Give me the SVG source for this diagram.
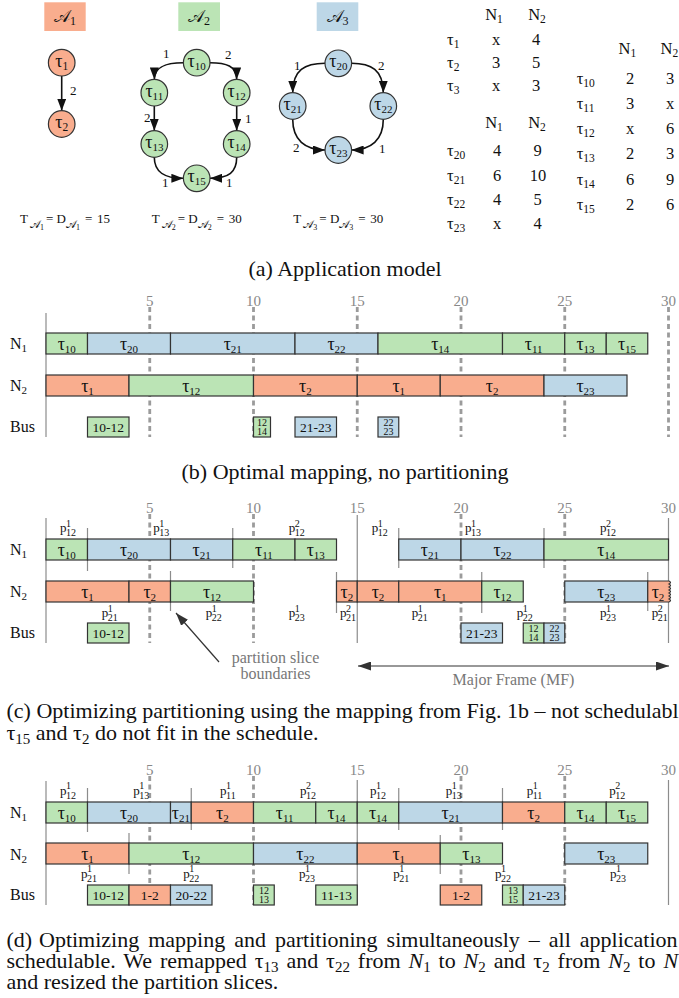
<svg xmlns="http://www.w3.org/2000/svg" width="679" height="998" viewBox="0 0 679 998">
<defs>
<style>
text{font-family:"Liberation Serif","DejaVu Serif",serif;fill:#111}
.o{fill:#F9AD8E}.g{fill:#BBE4B5}.b{fill:#BDD7E7}
.bx{stroke:#333;stroke-width:1.2}
.hb{stroke:none}
.ed{fill:none;stroke:#111;stroke-width:1.6;marker-end:url(#ah)}
.dl{stroke:#9b9b9b;stroke-width:2.8;stroke-dasharray:5 3.5;fill:none}
.sl{stroke:#8c8c8c;stroke-width:1.2}
.tk{font-size:15px;fill:#888;text-anchor:middle}
.rl{font-size:16px}
.tt{font-size:18px;text-anchor:middle}
.bt{font-size:13.5px;text-anchor:middle}
.bs{font-size:10px;text-anchor:middle}
.pl{font-size:13px}
.cap{font-size:22px}
.el{font-size:13px}
.tb{font-size:16.5px}
.tc{font-size:16.5px;text-anchor:middle}
.gr{fill:#777}
.ann{fill:none;stroke:#333;stroke-width:1.2}
</style>
<marker id="ah" viewBox="0 0 12 9" refX="12" refY="4.5" markerWidth="12" markerHeight="9" markerUnits="userSpaceOnUse" orient="auto"><path d="M0,0L12,4.5L0,9z" fill="#111"/></marker>
<marker id="ah2" viewBox="0 0 13 9" refX="13" refY="4.5" markerWidth="13" markerHeight="9" markerUnits="userSpaceOnUse" orient="auto-start-reverse"><path d="M0,0L13,4.5L0,9z" fill="#333"/></marker>
</defs>
<rect width="679" height="998" fill="#fff"/>

<g id="hdrA1"><rect class="o hb" x="44.3" y="2.3" width="41.4" height="28.7"/><text x="65" y="22" font-size="17" text-anchor="middle">𝒜<tspan font-size="12" dy="3">1</tspan></text></g>
<g id="hdrA2"><rect class="g hb" x="178.3" y="2.3" width="41.7" height="28.7"/><text x="199" y="22" font-size="17" text-anchor="middle">𝒜<tspan font-size="12" dy="3">2</tspan></text></g>
<g id="hdrA3"><rect class="b hb" x="316.7" y="2.3" width="41.6" height="28.7"/><text x="337.5" y="22" font-size="17" text-anchor="middle">𝒜<tspan font-size="12" dy="3">3</tspan></text></g>

<g id="connectors">
<path class="ed" d="M61.7,76V110.7"/>
<path class="ed" d="M183.4,62.7C167,62.7 154.3,66 154.3,79.4"/>
<path class="ed" d="M210,62.7C226,62.7 236.7,66 236.7,79.4"/>
<path class="ed" d="M154.3,106V130.7"/>
<path class="ed" d="M236.7,106V130.7"/>
<path class="ed" d="M154.3,157.3C154.3,172 164,178.3 183.4,178.3"/>
<path class="ed" d="M236.7,157.3C236.7,172 229,178.3 210,178.3"/>
<path class="ed" d="M325,63.3C305,63.3 292.7,70 292.7,92.7"/>
<path class="ed" d="M351.6,63.3C371,63.3 383.3,70 383.3,92.7"/>
<path class="ed" d="M292.7,119.3C292.7,140 305,150 325,150"/>
<path class="ed" d="M383.3,119.3C383.3,140 371,150 351.6,150"/>
<text class="el" x="70" y="94.5">2</text>
<text class="el" x="163" y="58">1</text>
<text class="el" x="225" y="59">2</text>
<text class="el" x="144" y="121.5">2</text>
<text class="el" x="245" y="123">1</text>
<text class="el" x="162" y="187">1</text>
<text class="el" x="226" y="187">1</text>
<text class="el" x="294" y="70">1</text>
<text class="el" x="378" y="70">2</text>
<text class="el" x="293" y="151.5">2</text>
<text class="el" x="379" y="153">1</text>
<path class="ann" d="M219,662L176,613" marker-end="url(#ah2)"/>
<path class="ann" d="M358,666H669" marker-start="url(#ah2)" marker-end="url(#ah2)"/>
</g>

<g id="n1"><circle class="o bx" cx="61.7" cy="62.7" r="13.3"/><text class="tt" x="61.7" y="66.8">τ<tspan font-size="11.5" dy="3">1</tspan></text></g>
<g id="n2"><circle class="o bx" cx="61.7" cy="124" r="13.3"/><text class="tt" x="61.7" y="128.1">τ<tspan font-size="11.5" dy="3">2</tspan></text></g>
<g id="n10"><circle class="g bx" cx="196.7" cy="62.7" r="13.3"/><text class="tt" x="196.7" y="66.8" font-size="16.5">τ<tspan font-size="11" dy="3">10</tspan></text></g>
<g id="n11"><circle class="g bx" cx="154.3" cy="92.7" r="13.3"/><text class="tt" x="154.3" y="96.8" font-size="16.5">τ<tspan font-size="11" dy="3">11</tspan></text></g>
<g id="n12"><circle class="g bx" cx="236.7" cy="92.7" r="13.3"/><text class="tt" x="236.7" y="96.8" font-size="16.5">τ<tspan font-size="11" dy="3">12</tspan></text></g>
<g id="n13"><circle class="g bx" cx="154.3" cy="144" r="13.3"/><text class="tt" x="154.3" y="148.1" font-size="16.5">τ<tspan font-size="11" dy="3">13</tspan></text></g>
<g id="n14"><circle class="g bx" cx="236.7" cy="144" r="13.3"/><text class="tt" x="236.7" y="148.1" font-size="16.5">τ<tspan font-size="11" dy="3">14</tspan></text></g>
<g id="n15"><circle class="g bx" cx="196.7" cy="178.3" r="13.3"/><text class="tt" x="196.7" y="182.4" font-size="16.5">τ<tspan font-size="11" dy="3">15</tspan></text></g>
<g id="n20"><circle class="b bx" cx="338.3" cy="63.3" r="13.3"/><text class="tt" x="338.3" y="67.4" font-size="16.5">τ<tspan font-size="11" dy="3">20</tspan></text></g>
<g id="n21"><circle class="b bx" cx="292.7" cy="106" r="13.3"/><text class="tt" x="292.7" y="110.1" font-size="16.5">τ<tspan font-size="11" dy="3">21</tspan></text></g>
<g id="n22"><circle class="b bx" cx="383.3" cy="106" r="13.3"/><text class="tt" x="383.3" y="110.1" font-size="16.5">τ<tspan font-size="11" dy="3">22</tspan></text></g>
<g id="n23"><circle class="b bx" cx="338.3" cy="150" r="13.3"/><text class="tt" x="338.3" y="154.1" font-size="16.5">τ<tspan font-size="11" dy="3">23</tspan></text></g>

<g id="periods" font-size="13">
<text y="223"><tspan x="20">T</tspan><tspan x="30" y="227.5" font-size="11">𝒜</tspan><tspan y="229.5" font-size="8">1</tspan><tspan x="46" y="223">= D</tspan><tspan y="227.5" font-size="11">𝒜</tspan><tspan y="229.5" font-size="8">1</tspan><tspan x="85" y="223">=</tspan><tspan x="97">15</tspan></text>
<text y="223"><tspan x="151.7">T</tspan><tspan x="161.7" y="227.5" font-size="11">𝒜</tspan><tspan y="229.5" font-size="8">2</tspan><tspan x="177.7" y="223">= D</tspan><tspan y="227.5" font-size="11">𝒜</tspan><tspan y="229.5" font-size="8">2</tspan><tspan x="216.7" y="223">=</tspan><tspan x="228.7">30</tspan></text>
<text y="223"><tspan x="293.3">T</tspan><tspan x="303.3" y="227.5" font-size="11">𝒜</tspan><tspan y="229.5" font-size="8">3</tspan><tspan x="319.3" y="223">= D</tspan><tspan y="227.5" font-size="11">𝒜</tspan><tspan y="229.5" font-size="8">3</tspan><tspan x="358.3" y="223">=</tspan><tspan x="370.3">30</tspan></text>
</g>

<g id="table1" class="tb">
<text class="tc" x="494" y="19.5">N<tspan font-size="11.5" dy="3">1</tspan></text><text class="tc" x="537" y="19.5">N<tspan font-size="11.5" dy="3">2</tspan></text>
<text x="447" y="45">τ<tspan font-size="11.5" dy="3">1</tspan></text><text class="tc" x="496" y="45">x</text><text class="tc" x="536" y="45">4</text>
<text x="447" y="68">τ<tspan font-size="11.5" dy="3">2</tspan></text><text class="tc" x="496" y="68">3</text><text class="tc" x="536" y="68">5</text>
<text x="447" y="91">τ<tspan font-size="11.5" dy="3">3</tspan></text><text class="tc" x="496" y="91">x</text><text class="tc" x="536" y="91">3</text>
</g>
<g id="table2" class="tb">
<text class="tc" x="494" y="128">N<tspan font-size="11.5" dy="3">1</tspan></text><text class="tc" x="537" y="128">N<tspan font-size="11.5" dy="3">2</tspan></text>
<text x="447" y="156">τ<tspan font-size="11.5" dy="3">20</tspan></text><text class="tc" x="497" y="156">4</text><text class="tc" x="537.5" y="156">9</text>
<text x="447" y="180.5">τ<tspan font-size="11.5" dy="3">21</tspan></text><text class="tc" x="497" y="180.5">6</text><text class="tc" x="538" y="180.5">10</text>
<text x="447" y="205">τ<tspan font-size="11.5" dy="3">22</tspan></text><text class="tc" x="497" y="205">4</text><text class="tc" x="537.5" y="205">5</text>
<text x="447" y="229">τ<tspan font-size="11.5" dy="3">23</tspan></text><text class="tc" x="497" y="229">x</text><text class="tc" x="537.5" y="229">4</text>
</g>
<g id="table3" class="tb">
<text class="tc" x="627.3" y="54">N<tspan font-size="11.5" dy="3">1</tspan></text><text class="tc" x="669.3" y="54">N<tspan font-size="11.5" dy="3">2</tspan></text>
<text x="576.7" y="83.5">τ<tspan font-size="11.5" dy="3">10</tspan></text><text class="tc" x="630" y="83.5">2</text><text class="tc" x="670" y="83.5">3</text>
<text x="576.7" y="109">τ<tspan font-size="11.5" dy="3">11</tspan></text><text class="tc" x="630" y="109">3</text><text class="tc" x="670" y="109">x</text>
<text x="576.7" y="134">τ<tspan font-size="11.5" dy="3">12</tspan></text><text class="tc" x="630" y="134">x</text><text class="tc" x="670" y="134">6</text>
<text x="576.7" y="159">τ<tspan font-size="11.5" dy="3">13</tspan></text><text class="tc" x="630" y="159">2</text><text class="tc" x="670" y="159">3</text>
<text x="576.7" y="184.5">τ<tspan font-size="11.5" dy="3">14</tspan></text><text class="tc" x="630" y="184.5">6</text><text class="tc" x="670" y="184.5">9</text>
<text x="576.7" y="209.5">τ<tspan font-size="11.5" dy="3">15</tspan></text><text class="tc" x="630" y="209.5">2</text><text class="tc" x="670" y="209.5">6</text>
</g>

<text class="cap" x="345" y="276" text-anchor="middle">(a) Application model</text>

<g id="chartB">
<g id="axisB">
<line class="sl" x1="46" y1="313" x2="46" y2="437"/>
<path class="dl" d="M149.75,307V437M253.5,307V437M357.25,307V437M461,307V437M564.75,307V437M668.5,307V437"/>
<text class="tk" x="149.75" y="306">5</text><text class="tk" x="253.5" y="306">10</text><text class="tk" x="357.25" y="306">15</text><text class="tk" x="461" y="306">20</text><text class="tk" x="564.75" y="306">25</text><text class="tk" x="668.5" y="306">30</text>
<text class="rl" x="10" y="349">N<tspan font-size="11" dy="3">1</tspan></text>
<text class="rl" x="10" y="391">N<tspan font-size="11" dy="3">2</tspan></text>
<text class="rl" x="10" y="432">Bus</text>
</g>
<g id="b_n1_10"><rect class="g bx" x="46" y="333" width="41.5" height="21"/><text class="tt" x="66.75" y="349.5">τ<tspan font-size="11" dy="3">10</tspan></text></g>
<g id="b_n1_20"><rect class="b bx" x="87.5" y="333" width="83" height="21"/><text class="tt" x="129" y="349.5">τ<tspan font-size="11" dy="3">20</tspan></text></g>
<g id="b_n1_21"><rect class="b bx" x="170.5" y="333" width="124.5" height="21"/><text class="tt" x="232.75" y="349.5">τ<tspan font-size="11" dy="3">21</tspan></text></g>
<g id="b_n1_22"><rect class="b bx" x="295" y="333" width="83" height="21"/><text class="tt" x="336.5" y="349.5">τ<tspan font-size="11" dy="3">22</tspan></text></g>
<g id="b_n1_14"><rect class="g bx" x="378" y="333" width="124.5" height="21"/><text class="tt" x="440.25" y="349.5">τ<tspan font-size="11" dy="3">14</tspan></text></g>
<g id="b_n1_11"><rect class="g bx" x="502.5" y="333" width="62.25" height="21"/><text class="tt" x="533.6" y="349.5">τ<tspan font-size="11" dy="3">11</tspan></text></g>
<g id="b_n1_13"><rect class="g bx" x="564.75" y="333" width="41.5" height="21"/><text class="tt" x="585.5" y="349.5">τ<tspan font-size="11" dy="3">13</tspan></text></g>
<g id="b_n1_15"><rect class="g bx" x="606.25" y="333" width="41.5" height="21"/><text class="tt" x="627" y="349.5">τ<tspan font-size="11" dy="3">15</tspan></text></g>
<g id="b_n2_1a"><rect class="o bx" x="46" y="375" width="83" height="21"/><text class="tt" x="87.5" y="391.5">τ<tspan font-size="11" dy="3">1</tspan></text></g>
<g id="b_n2_12"><rect class="g bx" x="129" y="375" width="124.5" height="21"/><text class="tt" x="191.25" y="391.5">τ<tspan font-size="11" dy="3">12</tspan></text></g>
<g id="b_n2_2a"><rect class="o bx" x="253.5" y="375" width="103.75" height="21"/><text class="tt" x="305.4" y="391.5">τ<tspan font-size="11" dy="3">2</tspan></text></g>
<g id="b_n2_1b"><rect class="o bx" x="357.25" y="375" width="83" height="21"/><text class="tt" x="398.75" y="391.5">τ<tspan font-size="11" dy="3">1</tspan></text></g>
<g id="b_n2_2b"><rect class="o bx" x="440.25" y="375" width="103.75" height="21"/><text class="tt" x="492.1" y="391.5">τ<tspan font-size="11" dy="3">2</tspan></text></g>
<g id="b_n2_23"><rect class="b bx" x="544" y="375" width="83" height="21"/><text class="tt" x="585.5" y="391.5">τ<tspan font-size="11" dy="3">23</tspan></text></g>
<g id="b_bus_1"><rect class="g bx" x="87.5" y="417" width="41.5" height="20"/><text class="bt" x="108.25" y="431.5">10-12</text></g>
<g id="b_bus_2"><rect class="g bx" x="253.5" y="417" width="17" height="20"/><text class="bs" x="262" y="425.5">12<tspan x="262" y="435">14</tspan></text></g>
<g id="b_bus_3"><rect class="b bx" x="295" y="417" width="41.5" height="20"/><text class="bt" x="315.75" y="431.5">21-23</text></g>
<g id="b_bus_4"><rect class="b bx" x="378" y="417" width="20.75" height="20"/><text class="bs" x="388.4" y="425.5">22<tspan x="388.4" y="435">23</tspan></text></g>
</g>
<text class="cap" x="345" y="479" text-anchor="middle">(b) Optimal mapping, no partitioning</text>

<g id="chartC">
<g id="axisC">
<line class="sl" x1="46" y1="518" x2="46" y2="643"/>
<path class="dl" d="M149.75,514V643M253.5,514V643M461,514V643M564.75,514V643"/>
<path class="sl" d="M357.25,515V643M668.5,518V643M87.5,528V571M232.75,528V568M398.75,528V568M544,528V568M170.5,571V611M336.5,572V613M481.75,572V613M647.75,572V611"/>
<text class="tk" x="149.75" y="513">5</text><text class="tk" x="253.5" y="513">10</text><text class="tk" x="357.25" y="513">15</text><text class="tk" x="461" y="513">20</text><text class="tk" x="564.75" y="513">25</text><text class="tk" x="668.5" y="513">30</text>
<text class="rl" x="10" y="555">N<tspan font-size="11" dy="3">1</tspan></text>
<text class="rl" x="10" y="597">N<tspan font-size="11" dy="3">2</tspan></text>
<text class="rl" x="10" y="638">Bus</text>
</g>
<g id="c_parts" class="pl">
<text x="60" y="532">p<tspan x="66" y="526.5" font-size="10">1</tspan><tspan x="66" y="536" font-size="10">12</tspan></text>
<text x="153.3" y="532">p<tspan x="159.3" y="526.5" font-size="10">1</tspan><tspan x="159.3" y="536" font-size="10">13</tspan></text>
<text x="288.7" y="532">p<tspan x="294.7" y="526.5" font-size="10">2</tspan><tspan x="294.7" y="536" font-size="10">12</tspan></text>
<text x="371.7" y="532">p<tspan x="377.7" y="526.5" font-size="10">1</tspan><tspan x="377.7" y="536" font-size="10">12</tspan></text>
<text x="465" y="532">p<tspan x="471" y="526.5" font-size="10">1</tspan><tspan x="471" y="536" font-size="10">13</tspan></text>
<text x="600" y="532">p<tspan x="606" y="526.5" font-size="10">2</tspan><tspan x="606" y="536" font-size="10">12</tspan></text>
<text x="101.7" y="617">p<tspan x="107.7" y="611.5" font-size="10">1</tspan><tspan x="107.7" y="621" font-size="10">21</tspan></text>
<text x="205.7" y="617">p<tspan x="211.7" y="611.5" font-size="10">1</tspan><tspan x="211.7" y="621" font-size="10">22</tspan></text>
<text x="288.7" y="617">p<tspan x="294.7" y="611.5" font-size="10">1</tspan><tspan x="294.7" y="621" font-size="10">23</tspan></text>
<text x="340" y="617">p<tspan x="346" y="611.5" font-size="10">2</tspan><tspan x="346" y="621" font-size="10">21</tspan></text>
<text x="411.7" y="617">p<tspan x="417.7" y="611.5" font-size="10">1</tspan><tspan x="417.7" y="621" font-size="10">21</tspan></text>
<text x="516.7" y="617">p<tspan x="522.7" y="611.5" font-size="10">1</tspan><tspan x="522.7" y="621" font-size="10">22</tspan></text>
<text x="600" y="617">p<tspan x="606" y="611.5" font-size="10">1</tspan><tspan x="606" y="621" font-size="10">23</tspan></text>
<text x="651.7" y="617">p<tspan x="657.7" y="611.5" font-size="10">2</tspan><tspan x="657.7" y="621" font-size="10">21</tspan></text>
</g>
<g id="c_n1_10"><rect class="g bx" x="46" y="539" width="41.5" height="21"/><text class="tt" x="66.75" y="555.5">τ<tspan font-size="11" dy="3">10</tspan></text></g>
<g id="c_n1_20"><rect class="b bx" x="87.5" y="539" width="83" height="21"/><text class="tt" x="129" y="555.5">τ<tspan font-size="11" dy="3">20</tspan></text></g>
<g id="c_n1_21a"><rect class="b bx" x="170.5" y="539" width="62.25" height="21"/><text class="tt" x="201.6" y="555.5">τ<tspan font-size="11" dy="3">21</tspan></text></g>
<g id="c_n1_11"><rect class="g bx" x="232.75" y="539" width="62.25" height="21"/><text class="tt" x="263.9" y="555.5">τ<tspan font-size="11" dy="3">11</tspan></text></g>
<g id="c_n1_13"><rect class="g bx" x="295" y="539" width="41.5" height="21"/><text class="tt" x="315.75" y="555.5">τ<tspan font-size="11" dy="3">13</tspan></text></g>
<g id="c_n1_21b"><rect class="b bx" x="398.75" y="539" width="62.25" height="21"/><text class="tt" x="429.9" y="555.5">τ<tspan font-size="11" dy="3">21</tspan></text></g>
<g id="c_n1_22"><rect class="b bx" x="461" y="539" width="83" height="21"/><text class="tt" x="502.5" y="555.5">τ<tspan font-size="11" dy="3">22</tspan></text></g>
<g id="c_n1_14"><rect class="g bx" x="544" y="539" width="124.5" height="21"/><text class="tt" x="606.25" y="555.5">τ<tspan font-size="11" dy="3">14</tspan></text></g>
<g id="c_n2_1a"><rect class="o bx" x="46" y="581" width="83" height="21"/><text class="tt" x="87.5" y="597.5">τ<tspan font-size="11" dy="3">1</tspan></text></g>
<g id="c_n2_2a"><rect class="o bx" x="129" y="581" width="41.5" height="21"/><text class="tt" x="149.75" y="597.5">τ<tspan font-size="11" dy="3">2</tspan></text></g>
<g id="c_n2_12a"><rect class="g bx" x="170.5" y="581" width="83" height="21"/><text class="tt" x="212" y="597.5">τ<tspan font-size="11" dy="3">12</tspan></text></g>
<g id="c_n2_2b"><rect class="o bx" x="336.5" y="581" width="20.75" height="21"/><text class="tt" x="346.9" y="597.5">τ<tspan font-size="11" dy="3">2</tspan></text></g>
<g id="c_n2_2c"><rect class="o bx" x="357.25" y="581" width="41.5" height="21"/><text class="tt" x="378" y="597.5">τ<tspan font-size="11" dy="3">2</tspan></text></g>
<g id="c_n2_1b"><rect class="o bx" x="398.75" y="581" width="83" height="21"/><text class="tt" x="440.25" y="597.5">τ<tspan font-size="11" dy="3">1</tspan></text></g>
<g id="c_n2_12b"><rect class="g bx" x="481.75" y="581" width="41.5" height="21"/><text class="tt" x="502.5" y="597.5">τ<tspan font-size="11" dy="3">12</tspan></text></g>
<g id="c_n2_23"><rect class="b bx" x="564.75" y="581" width="83" height="21"/><text class="tt" x="606.25" y="597.5">τ<tspan font-size="11" dy="3">23</tspan></text></g>
<g id="c_n2_2d"><path class="o bx" d="M647.75,581H669q3,1.5 0,3q3,1.5 0,3q3,1.5 0,3q3,1.5 0,3q3,1.5 0,3q3,1.5 0,3q3,1.5 0,3H647.75z"/><text class="tt" x="658" y="597.5">τ<tspan font-size="11" dy="3">2</tspan></text></g>
<g id="c_bus_1"><rect class="g bx" x="87.5" y="623" width="41.5" height="20"/><text class="bt" x="108.25" y="637.5">10-12</text></g>
<g id="c_bus_2"><rect class="b bx" x="461" y="623" width="41.5" height="20"/><text class="bt" x="481.75" y="637.5">21-23</text></g>
<g id="c_bus_3"><rect class="g bx" x="523.25" y="623" width="20.75" height="20"/><text class="bs" x="533.6" y="631.5">12<tspan x="533.6" y="641">14</tspan></text></g>
<g id="c_bus_4"><rect class="b bx" x="544" y="623" width="20.75" height="20"/><text class="bs" x="554.4" y="631.5">22<tspan x="554.4" y="641">23</tspan></text></g>
<g id="c_note1"><text x="275.5" y="663" font-size="16" text-anchor="middle" class="gr">partition slice</text><text x="275.5" y="679" font-size="16" text-anchor="middle" class="gr">boundaries</text></g>
<g id="c_note2"><text x="513.5" y="685" font-size="16" text-anchor="middle" class="gr">Major Frame (MF)</text></g>
</g>
<text class="cap" x="6.5" y="718">(c) Optimizing partitioning using the mapping from Fig. 1b – not schedulable</text>
<text class="cap" x="6.5" y="740">τ<tspan font-size="15" dy="4">15</tspan><tspan dy="-4"> and τ</tspan><tspan font-size="15" dy="4">2</tspan><tspan dy="-4"> do not fit in the schedule.</tspan></text>

<g id="chartD">
<g id="axisD">
<line class="sl" x1="46" y1="781" x2="46" y2="905"/>
<path class="dl" d="M149.75,776V905M253.5,776V905M461,776V905M564.75,776V905"/>
<path class="sl" d="M357.25,780V905M668.5,780V905M87.5,788V832M191.25,788V830M398.75,788V830M502.5,788V830M129,833V874M440.25,835V874"/>
<text class="tk" x="149.75" y="775">5</text><text class="tk" x="253.5" y="775">10</text><text class="tk" x="357.25" y="775">15</text><text class="tk" x="461" y="775">20</text><text class="tk" x="564.75" y="775">25</text><text class="tk" x="668.5" y="775">30</text>
<text class="rl" x="10" y="818">N<tspan font-size="11" dy="3">1</tspan></text>
<text class="rl" x="10" y="860">N<tspan font-size="11" dy="3">2</tspan></text>
<text class="rl" x="10" y="900">Bus</text>
</g>
<g id="d_parts" class="pl">
<text x="60" y="794.5">p<tspan x="66" y="789" font-size="10">1</tspan><tspan x="66" y="798.5" font-size="10">12</tspan></text>
<text x="133.3" y="794.5">p<tspan x="139.3" y="789" font-size="10">1</tspan><tspan x="139.3" y="798.5" font-size="10">13</tspan></text>
<text x="220" y="794.5">p<tspan x="226" y="789" font-size="10">1</tspan><tspan x="226" y="798.5" font-size="10">11</tspan></text>
<text x="300" y="794.5">p<tspan x="306" y="789" font-size="10">2</tspan><tspan x="306" y="798.5" font-size="10">12</tspan></text>
<text x="370" y="794.5">p<tspan x="376" y="789" font-size="10">1</tspan><tspan x="376" y="798.5" font-size="10">12</tspan></text>
<text x="445.7" y="794.5">p<tspan x="451.7" y="789" font-size="10">1</tspan><tspan x="451.7" y="798.5" font-size="10">13</tspan></text>
<text x="526.7" y="794.5">p<tspan x="532.7" y="789" font-size="10">1</tspan><tspan x="532.7" y="798.5" font-size="10">11</tspan></text>
<text x="609.3" y="794.5">p<tspan x="615.3" y="789" font-size="10">2</tspan><tspan x="615.3" y="798.5" font-size="10">12</tspan></text>
<text x="81" y="877.5">p<tspan x="87" y="872" font-size="10">1</tspan><tspan x="87" y="881.5" font-size="10">21</tspan></text>
<text x="183.3" y="877.5">p<tspan x="189.3" y="872" font-size="10">1</tspan><tspan x="189.3" y="881.5" font-size="10">22</tspan></text>
<text x="299" y="877.5">p<tspan x="305" y="872" font-size="10">1</tspan><tspan x="305" y="881.5" font-size="10">23</tspan></text>
<text x="393.3" y="877.5">p<tspan x="399.3" y="872" font-size="10">1</tspan><tspan x="399.3" y="881.5" font-size="10">21</tspan></text>
<text x="495" y="877.5">p<tspan x="501" y="872" font-size="10">1</tspan><tspan x="501" y="881.5" font-size="10">22</tspan></text>
<text x="610" y="877.5">p<tspan x="616" y="872" font-size="10">1</tspan><tspan x="616" y="881.5" font-size="10">23</tspan></text>
</g>
<g id="d_n1_10"><rect class="g bx" x="46" y="802" width="41.5" height="21"/><text class="tt" x="66.75" y="818.5">τ<tspan font-size="11" dy="3">10</tspan></text></g>
<g id="d_n1_20"><rect class="b bx" x="87.5" y="802" width="83" height="21"/><text class="tt" x="129" y="818.5">τ<tspan font-size="11" dy="3">20</tspan></text></g>
<g id="d_n1_21a"><rect class="b bx" x="170.5" y="802" width="20.75" height="21"/><text class="tt" x="180.9" y="818.5">τ<tspan font-size="11" dy="3">21</tspan></text></g>
<g id="d_n1_2a"><rect class="o bx" x="191.25" y="802" width="62.25" height="21"/><text class="tt" x="222.4" y="818.5">τ<tspan font-size="11" dy="3">2</tspan></text></g>
<g id="d_n1_11"><rect class="g bx" x="253.5" y="802" width="62.25" height="21"/><text class="tt" x="284.6" y="818.5">τ<tspan font-size="11" dy="3">11</tspan></text></g>
<g id="d_n1_14a"><rect class="g bx" x="315.75" y="802" width="41.5" height="21"/><text class="tt" x="336.5" y="818.5">τ<tspan font-size="11" dy="3">14</tspan></text></g>
<g id="d_n1_14b"><rect class="g bx" x="357.25" y="802" width="41.5" height="21"/><text class="tt" x="378" y="818.5">τ<tspan font-size="11" dy="3">14</tspan></text></g>
<g id="d_n1_21b"><rect class="b bx" x="398.75" y="802" width="103.75" height="21"/><text class="tt" x="450.6" y="818.5">τ<tspan font-size="11" dy="3">21</tspan></text></g>
<g id="d_n1_2b"><rect class="o bx" x="502.5" y="802" width="62.25" height="21"/><text class="tt" x="533.6" y="818.5">τ<tspan font-size="11" dy="3">2</tspan></text></g>
<g id="d_n1_14c"><rect class="g bx" x="564.75" y="802" width="41.5" height="21"/><text class="tt" x="585.5" y="818.5">τ<tspan font-size="11" dy="3">14</tspan></text></g>
<g id="d_n1_15"><rect class="g bx" x="606.25" y="802" width="41.5" height="21"/><text class="tt" x="627" y="818.5">τ<tspan font-size="11" dy="3">15</tspan></text></g>
<g id="d_n2_1a"><rect class="o bx" x="46" y="843" width="83" height="21"/><text class="tt" x="87.5" y="859.5">τ<tspan font-size="11" dy="3">1</tspan></text></g>
<g id="d_n2_12"><rect class="g bx" x="129" y="843" width="124.5" height="21"/><text class="tt" x="191.25" y="859.5">τ<tspan font-size="11" dy="3">12</tspan></text></g>
<g id="d_n2_22"><rect class="b bx" x="253.5" y="843" width="103.75" height="21"/><text class="tt" x="305.4" y="859.5">τ<tspan font-size="11" dy="3">22</tspan></text></g>
<g id="d_n2_1b"><rect class="o bx" x="357.25" y="843" width="83" height="21"/><text class="tt" x="398.75" y="859.5">τ<tspan font-size="11" dy="3">1</tspan></text></g>
<g id="d_n2_13"><rect class="g bx" x="440.25" y="843" width="62.25" height="21"/><text class="tt" x="471.4" y="859.5">τ<tspan font-size="11" dy="3">13</tspan></text></g>
<g id="d_n2_23"><rect class="b bx" x="564.75" y="843" width="83" height="21"/><text class="tt" x="606.25" y="859.5">τ<tspan font-size="11" dy="3">23</tspan></text></g>
<g id="d_bus_1"><rect class="g bx" x="87.5" y="885" width="41.5" height="20"/><text class="bt" x="108.25" y="899.5">10-12</text></g>
<g id="d_bus_2"><rect class="o bx" x="129" y="885" width="41.5" height="20"/><text class="bt" x="149.75" y="899.5">1-2</text></g>
<g id="d_bus_3"><rect class="b bx" x="170.5" y="885" width="41.5" height="20"/><text class="bt" x="191.25" y="899.5">20-22</text></g>
<g id="d_bus_4"><rect class="g bx" x="253.5" y="885" width="20.75" height="20"/><text class="bs" x="263.9" y="893.5">12<tspan x="263.9" y="903">13</tspan></text></g>
<g id="d_bus_5"><rect class="g bx" x="315.75" y="885" width="41.5" height="20"/><text class="bt" x="336.5" y="899.5">11-13</text></g>
<g id="d_bus_6"><rect class="o bx" x="440.25" y="885" width="41.5" height="20"/><text class="bt" x="461" y="899.5">1-2</text></g>
<g id="d_bus_7"><rect class="g bx" x="502.5" y="885" width="20.75" height="20"/><text class="bs" x="512.9" y="893.5">13<tspan x="512.9" y="903">15</tspan></text></g>
<g id="d_bus_8"><rect class="b bx" x="523.25" y="885" width="41.5" height="20"/><text class="bt" x="544" y="899.5">21-23</text></g>
</g>
<text class="cap" x="6.5" y="946.5"><tspan>(d)</tspan><tspan x="39" style="word-spacing:3.5px">Optimizing mapping and partitioning simultaneously – all application</tspan></text>
<text class="cap" x="6.5" y="968" style="word-spacing:2.4px">schedulable. We remapped τ<tspan font-size="15" dy="4">13</tspan><tspan dy="-4"> and τ</tspan><tspan font-size="15" dy="4">22</tspan><tspan dy="-4"> from </tspan><tspan font-style="italic">N</tspan><tspan font-size="15" dy="4">1</tspan><tspan dy="-4"> to </tspan><tspan font-style="italic">N</tspan><tspan font-size="15" dy="4">2</tspan><tspan dy="-4"> and τ</tspan><tspan font-size="15" dy="4">2</tspan><tspan dy="-4"> from </tspan><tspan font-style="italic">N</tspan><tspan font-size="15" dy="4">2</tspan><tspan dy="-4"> to </tspan><tspan font-style="italic">N</tspan></text>
<text class="cap" x="6.5" y="988.5">and resized the partition slices.</text>
</svg>
